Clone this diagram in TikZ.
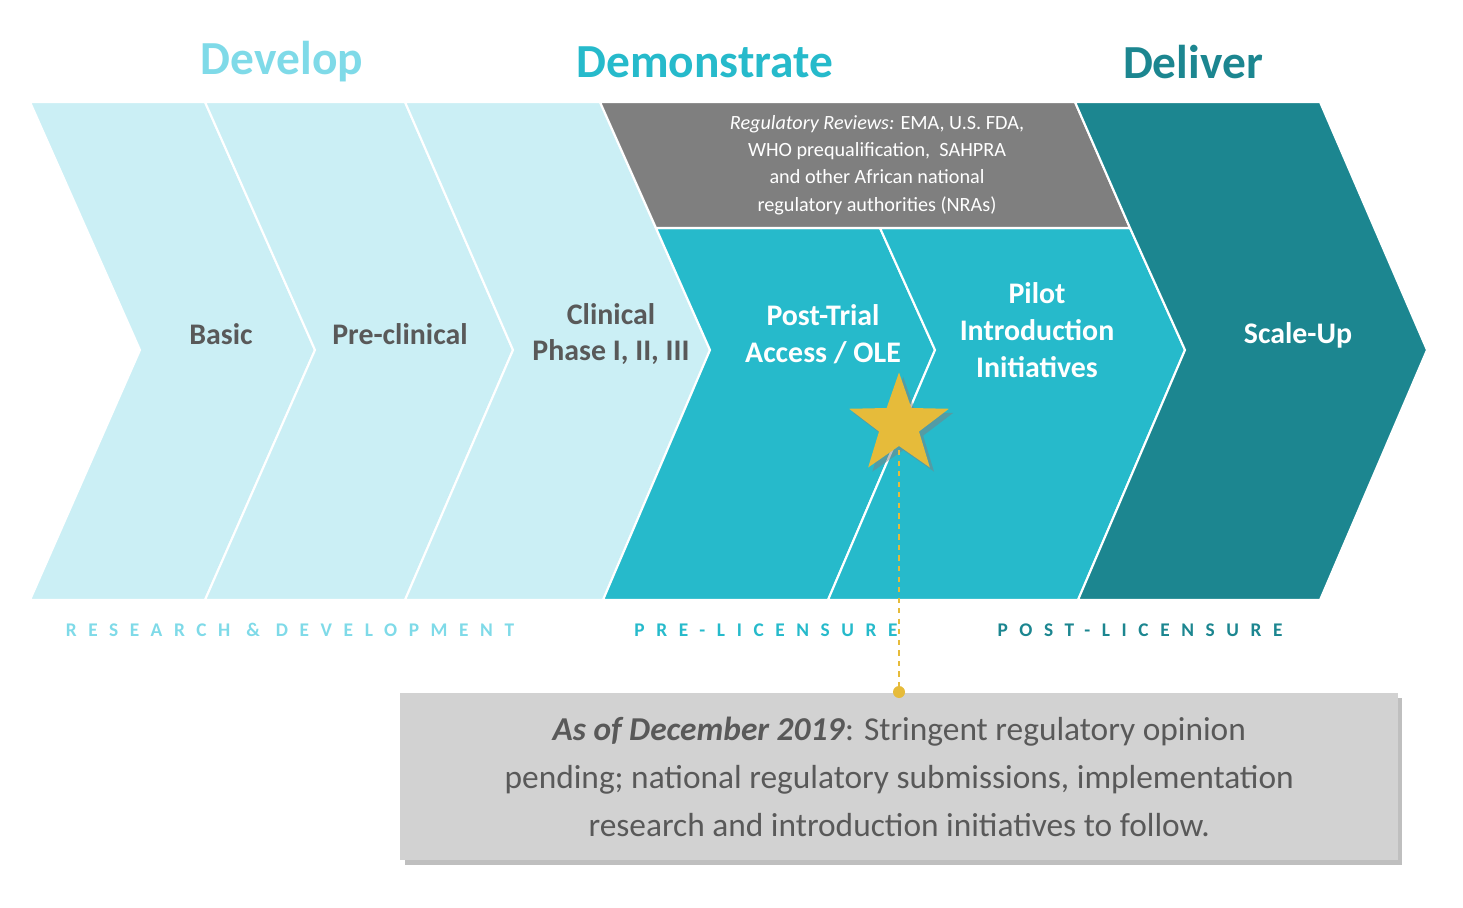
\documentclass[tikz,border=0pt]{standalone}
\usepackage{fontspec}
\setmainfont{Carlito}
\usetikzlibrary{shapes.geometric,shadows}
\definecolor{lightc}{HTML}{CBEFF5}
\definecolor{midc}{HTML}{26BACB}
\definecolor{darkc}{HTML}{1C8690}
\definecolor{greyc}{HTML}{7F7F7F}
\definecolor{devc}{HTML}{7FDAE8}
\definecolor{txtc}{HTML}{595959}
\definecolor{starc}{HTML}{E6BB3A}
\begin{document}
\begin{tikzpicture}[x=0.02cm,y=-0.02cm,
				chev/.style={draw=white, line width=1.2pt},
				lbl/.style={font=\fontsize{17}{21}\selectfont\bfseries, align=center},
				head/.style={font=\fontsize{27}{32}\selectfont\bfseries},
				phase/.style={font=\fontsize{11}{13}\selectfont\bfseries\addfontfeature{LetterSpace=60}}
				]
				\useasboundingbox (0,0) rectangle (1463,908);
				
				% chevrons
				\fill[lightc,chev] (30,102) -- (205,102) -- (315,350) -- (205,600) -- (30,600) -- (140,350) -- cycle;
				\fill[lightc,chev] (205,102) -- (405,102) -- (513,350) -- (405,600) -- (205,600) -- (315,350) -- cycle;
				\fill[lightc,chev] (405,102) -- (600,102) -- (710,350) -- (603,600) -- (405,600) -- (513,350) -- cycle;
				\fill[midc,chev] (656,228) -- (880,228) -- (935,350) -- (828,600) -- (603,600) -- (710,350) -- cycle;
				\fill[midc,chev] (880,228) -- (1130,228) -- (1185,350) -- (1078,600) -- (828,600) -- (935,350) -- cycle;
				\fill[greyc,chev] (600,102) -- (1075,102) -- (1130,228) -- (656,228) -- cycle;
				\fill[darkc,chev] (1075,102) -- (1320,102) -- (1427,350) -- (1320,600) -- (1078,600) -- (1185,350) -- (1130,228) -- cycle;
				
				% headings
				\node[head, text=devc] (develop) at (282,62) {Develop};
				\node[head, text=midc] (demonstrate) at (705,62) {Demonstrate};
				\node[head, text=darkc] (deliver) at (1193,62) {Deliver};
				
				% chevron labels
				\node[lbl, text=txtc] (basic) at (221,334) {Basic};
				\node[lbl, text=txtc] (precl) at (400,334) {Pre-clinical};
				\node[lbl, text=txtc] (clin) at (611,334) {Clinical\\Phase I, II, III};
				\node[lbl, text=white] (ptrial) at (823,334) {Post-Trial\\Access / OLE};
				\node[lbl, text=white] (pilot) at (1037,330) {Pilot\\Introduction\\Initiatives};
				\node[lbl, text=white] (scale) at (1298,335) {Scale-Up};
				\node[text=white, align=center, font=\fontsize{11.5}{15.5}\selectfont] (reg) at (877,165)
					{\textit{Regulatory Reviews:} EMA, U.S. FDA,\\WHO prequalification,\ \ SAHPRA\\and other African national\\regulatory authorities (NRAs)};
				
				% phase labels
				\node[phase, text=devc] (rnd) at (290,630) {RESEARCH \& DEVELOPMENT};
				\node[phase, text=midc] (prel) at (766,630) {PRE-LICENSURE};
				\node[phase, text=darkc] (postl) at (1140,630) {POST-LICENSURE};
				
				% note
				\node[fill=lightgray!70, drop shadow, minimum width=19.96cm, minimum height=3.34cm, align=center,
					text=txtc, font=\fontsize{19}{27.5}\selectfont, anchor=north west] (note) at (400,693)
					{\textbf{\textit{As of December 2019}}: Stringent regulatory opinion\\pending; national regulatory submissions, implementation\\research and introduction initiatives to follow.};
				\coordinate (dot) at (899,692);
				\node[star, star points=5, star point ratio=2.5, fill=starc, drop shadow, minimum size=2.1cm, inner sep=0pt] (star) at (899,425) {};
				\draw[starc, dashed, line width=1.2pt] (star.center) ++(0,25) -- (dot);
				\fill[starc] (dot) circle (6);
			\end{tikzpicture}
\end{document}
